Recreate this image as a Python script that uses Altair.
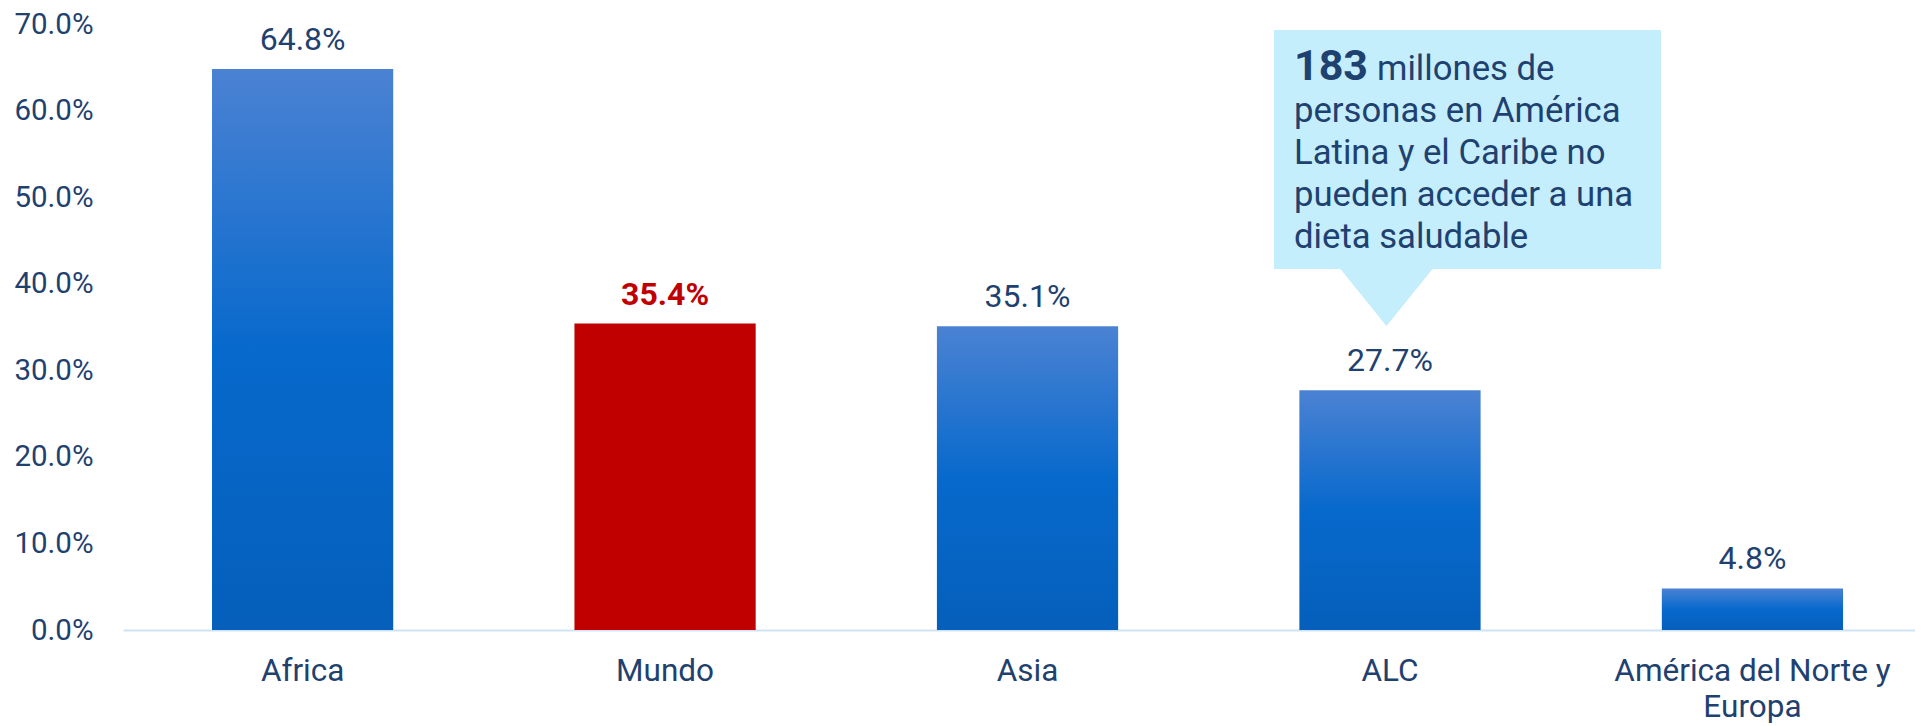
import altair as alt
import pandas as pd

# ---------------- data ----------------
categories = ["Africa", "Mundo", "Asia", "ALC", "América del Norte y Europa"]
values = [64.8, 35.4, 35.1, 27.7, 4.8]
y_ticks = [0, 10, 20, 30, 40, 50, 60, 70]
highlight = "Mundo"

callout_target = "ALC"
callout_bold = "183"
callout_first = "millones de"
callout_lines = ["personas en América", "Latina y el Caribe no",
                 "pueden acceder a una", "dieta saludable"]

# annotation placement (in axis units, %)
box_top, box_bottom = 69.3, 41.7
arrow_center = 38.58
line_y = [63.53, 58.68, 53.83, 48.98, 44.13]

# ---------------- style ----------------
FONT = "Roboto"
TEXT = "#1F4170"
RED = "#C00000"
CALLOUT_BG = "#C5EEFC"

gradient = alt.Gradient(
    gradient="linear", x1=0, x2=0, y1=0, y2=1,
    stops=[alt.GradientStop(color="#4B82D3", offset=0),
           alt.GradientStop(color="#0769CC", offset=0.5),
           alt.GradientStop(color="#055FBB", offset=1)],
)

df = pd.DataFrame({"cat": categories, "val": values})
df["label"] = [f"{v:.1f}%" for v in values]

x_enc = alt.X(
    "cat:N", sort=categories,
    scale=alt.Scale(domain=categories, paddingInner=0.5, paddingOuter=0.222, align=0.553),
    axis=alt.Axis(
        title=None, labelFont=FONT, labelFontSize=31.5, labelColor=TEXT,
        labelPadding=25, labelLineHeight=36, ticks=False, labelAngle=0,
        labelLimit=0, domainColor="#D0E3F5", domainWidth=2, grid=False,
        labelExpr="datum.label == 'América del Norte y Europa' ? ['América del Norte y', 'Europa'] : datum.label",
    ),
)
y_enc = alt.Y(
    "val:Q",
    scale=alt.Scale(domain=[0, 70], nice=False),
    axis=alt.Axis(
        title=None, values=y_ticks, grid=False, domain=False, ticks=False,
        labelPadding=30, labelFont=FONT, labelFontSize=29.5, labelColor=TEXT,
        labelExpr="format(datum.value, '.1f') + '%'",
    ),
)

base = alt.Chart(df).encode(x=x_enc, y=y_enc)

bars_blue = base.transform_filter(alt.datum.cat != highlight).mark_bar(color=gradient)
bars_red = base.transform_filter(alt.datum.cat == highlight).mark_bar(color=RED)

labels_blue = base.transform_filter(alt.datum.cat != highlight).mark_text(
    font=FONT, fontSize=32, color=TEXT, baseline="alphabetic", dy=-19
).encode(text="label:N")
labels_red = base.transform_filter(alt.datum.cat == highlight).mark_text(
    font=FONT, fontSize=32, fontWeight="bold", color=RED, baseline="alphabetic", dy=-19
).encode(text="label:N")

# callout box
box_df = pd.DataFrame({"cat": [callout_target], "val": [box_top], "val2": [box_bottom]})
box = alt.Chart(box_df).mark_bar(width=387, xOffset=77.5, color=CALLOUT_BG).encode(
    x=x_enc, y=y_enc, y2="val2:Q"
)
arrow_df = pd.DataFrame({"cat": [callout_target], "val": [arrow_center]})
arrow = alt.Chart(arrow_df).mark_point(
    shape="M-1,-0.6186L1,-0.6186L0,0.6186Z", size=9409, filled=True,
    color=CALLOUT_BG, opacity=1, strokeWidth=0, xOffset=-3.5
).encode(x=x_enc, y=y_enc)

bold_df = pd.DataFrame({"cat": [callout_target], "val": [line_y[0]], "t": [callout_bold]})
bold_txt = alt.Chart(bold_df).mark_text(
    font=FONT, fontSize=43, fontWeight="bold", color=TEXT, align="left",
    baseline="alphabetic", dx=-96
).encode(x=x_enc, y=y_enc, text="t:N")

first_df = pd.DataFrame({"cat": [callout_target], "val": [line_y[0]], "t": [callout_first]})
first_txt = alt.Chart(first_df).mark_text(
    font=FONT, fontSize=34.7, color=TEXT, align="left", baseline="alphabetic", dx=-13
).encode(x=x_enc, y=y_enc, text="t:N")

rest_df = pd.DataFrame({"cat": [callout_target] * len(callout_lines),
                        "val": line_y[1:], "t": callout_lines})
rest_txt = alt.Chart(rest_df).mark_text(
    font=FONT, fontSize=34.7, color=TEXT, align="left", baseline="alphabetic", dx=-96
).encode(x=x_enc, y=y_enc, text="t:N")

chart = alt.layer(
    bars_blue, bars_red, labels_blue, labels_red, box, arrow, bold_txt, first_txt, rest_txt
).properties(
    width=1792, height=606,
    padding={"left": 115, "top": 16, "right": 0, "bottom": 94},
    autosize=alt.AutoSizeParams(type="none"),
    background="white",
).configure_view(stroke="transparent", strokeWidth=0, strokeOpacity=0)

chart.save("out.html", embed_options={"renderer": "svg", "actions": False})
